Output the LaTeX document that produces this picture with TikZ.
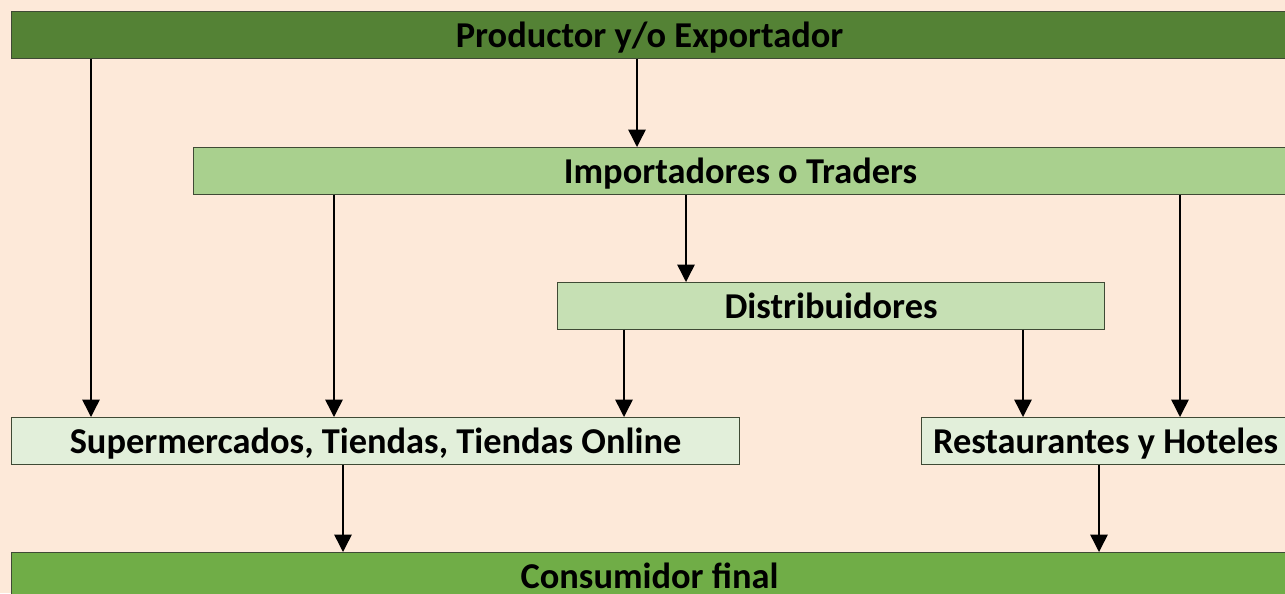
\documentclass[tikz,border=0pt]{standalone}
\usepackage{fontspec}
\setmainfont{Carlito}
\usetikzlibrary{arrows.meta,positioning}
\definecolor{peach}{HTML}{FDE9D9}
\definecolor{darkgreen}{HTML}{548235}
\definecolor{midgreen}{HTML}{70AD47}
\definecolor{lightgreen}{HTML}{A9D08E}
\definecolor{palegreen}{HTML}{C6E0B4}
\definecolor{mintgreen}{HTML}{E2EFDA}
\definecolor{boxline}{HTML}{3F4A35}
\tikzset{
  every picture/.style = {
    x = 0.75pt,
    y = -0.75pt,
    >={Triangle[width=13pt,length=13pt]},
  }
  ,
  box/.style = {
    rectangle,
    draw = boxline,
    line width = 0.8pt,
    anchor = north west,
    inner sep = 0pt,
    minimum height = 35pt,
    text height = 20pt,
    text depth = 1pt,
    font = \fontsize{27.3}{32}\selectfont\bfseries
  }
  , % arrows between boxes
  flow/.style = {
    ->,
    line width = 1.1pt
  }
}
\begin{document}
\begin{tikzpicture}
  \fill[peach] (0,0) rectangle (1285,593);
  \useasboundingbox (0,0) rectangle (1285,593);

  \node [box, fill=darkgreen, minimum width=957pt] (prod) at (11,11) {Productor y/o Exportador};
  \node [box, fill=lightgreen, minimum width=820.5pt] (imp) at (193,147) {Importadores o Traders};
  \node [box, fill=palegreen, minimum width=410.25pt] (dist) at (557,282) {Distribuidores};
  \node [box, fill=mintgreen, minimum width=546pt] (super) at (11,417) {Supermercados, Tiendas, Tiendas Online};
  \node [box, fill=mintgreen, minimum width=276pt] (rest) at (921,417) {Restaurantes y Hoteles};
  \node [box, fill=midgreen, minimum width=957pt] (cons) at (11,552) {Consumidor final};

  % columns of the arrows
  \coordinate (c1) at (91,0);
  \coordinate (c2) at (637,0);
  \coordinate (c3) at (334,0);
  \coordinate (c4) at (686,0);
  \coordinate (c5) at (1180,0);
  \coordinate (c6) at (624,0);
  \coordinate (c7) at (1023,0);
  \coordinate (c8) at (343,0);
  \coordinate (c9) at (1099,0);

  \path (prod.south -| c1) edge [flow] (super.north -| c1)
        (prod.south -| c2) edge [flow] (imp.north -| c2)
        (imp.south -| c3) edge [flow] (super.north -| c3)
        (imp.south -| c4) edge [flow] (dist.north -| c4)
        (imp.south -| c5) edge [flow] (rest.north -| c5)
        (dist.south -| c6) edge [flow] (super.north -| c6)
        (dist.south -| c7) edge [flow] (rest.north -| c7)
        (super.south -| c8) edge [flow] (cons.north -| c8)
        (rest.south -| c9) edge [flow] (cons.north -| c9);
\end{tikzpicture}
\end{document}
